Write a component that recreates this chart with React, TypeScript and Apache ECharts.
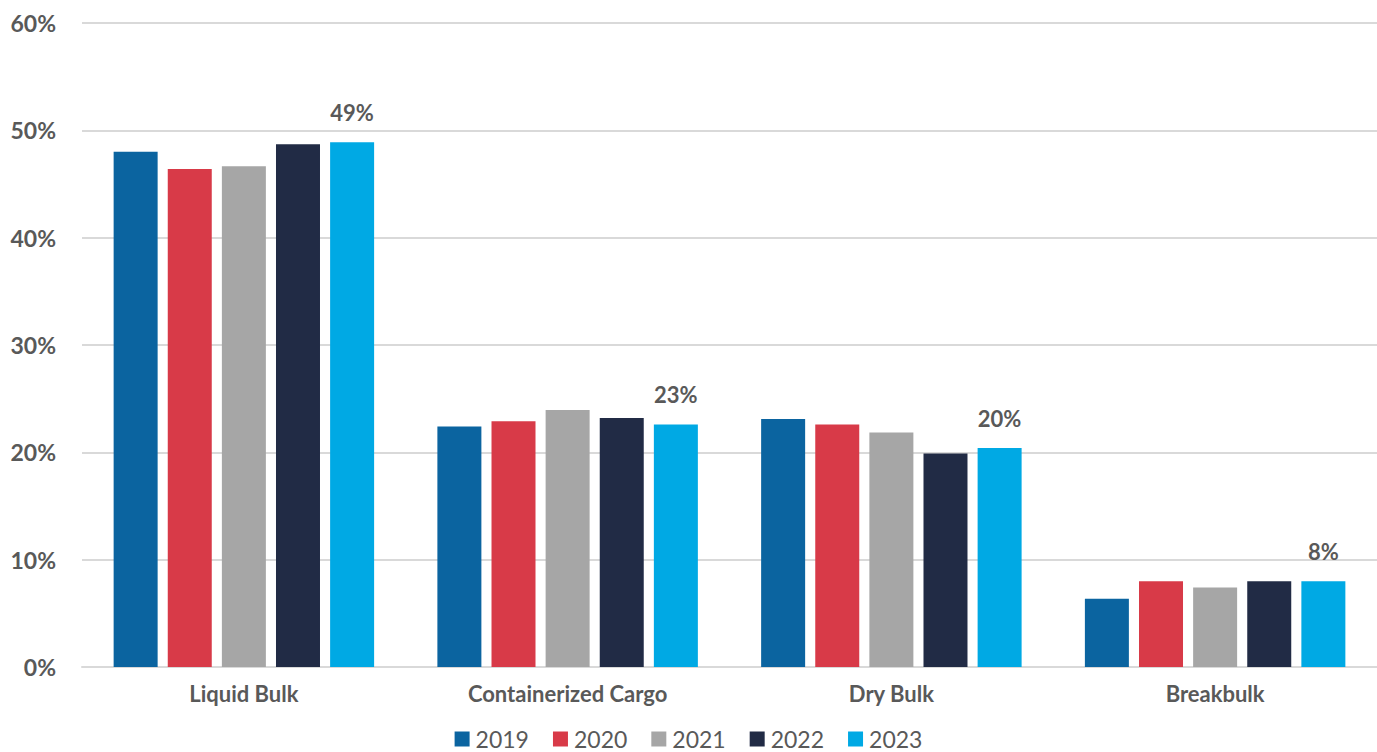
import React, { useEffect, useRef } from "react";
import * as echarts from "echarts";

const categories = ["Liquid Bulk", "Containerized Cargo", "Dry Bulk", "Breakbulk"];
const years = ["2019", "2020", "2021", "2022", "2023"];
const v2019 = [48.0, 22.4, 23.1, 6.35];
const v2020 = [46.4, 22.9, 22.6, 8.0];
const v2021 = [46.65, 23.95, 21.85, 7.4];
const v2022 = [48.7, 23.2, 19.9, 8.0];
const v2023 = [48.9, 22.6, 20.4, 8.0];
const seriesValues = [v2019, v2020, v2021, v2022, v2023];
const colors = ["#0B64A0", "#D83A48", "#A6A6A6", "#212B45", "#00A9E4"];
const yTicks = [0, 10, 20, 30, 40, 50, 60];

const FONT = "Lato";
const TEXT = "#595959";

export default function App() {
  const ref = useRef<HTMLDivElement>(null);
  useEffect(() => {
    if (!ref.current) return;
    const chart = echarts.init(ref.current, null, { renderer: "svg" });
    chart.setOption({
      animation: false,
      backgroundColor: "#ffffff",
      textStyle: { fontFamily: FONT },
      grid: { left: 82, right: 0, top: 23, bottom: 85, containLabel: false },
      legend: {
        data: years,
        top: 727,
        padding: 0,
        left: "center",
        itemWidth: 15,
        itemHeight: 15,
        itemGap: 24,
        icon: "rect",
        textStyle: { fontFamily: FONT, fontSize: 23, lineHeight: 24, color: TEXT, padding: [0, 0, 0, 1] },
      },
      xAxis: {
        type: "category",
        data: categories,
        axisLine: { lineStyle: { color: "#D9D9D9", width: 2 } },
        axisTick: { show: false },
        axisLabel: {
          fontFamily: FONT,
          fontSize: 22,
          fontWeight: "bold",
          color: TEXT,
          margin: 15,
        },
      },
      yAxis: {
        type: "value",
        min: yTicks[0],
        max: yTicks[yTicks.length - 1],
        interval: 10,
        axisLine: { show: false },
        axisTick: { show: false },
        splitLine: { lineStyle: { color: "#D9D9D9", width: 2 } },
        axisLabel: {
          fontFamily: FONT,
          fontSize: 23,
          fontWeight: "bold",
          color: TEXT,
          margin: 26,
          formatter: (v: number) => `${v}%`,
        },
      },
      series: years.map((y, i) => ({
        name: y,
        type: "bar",
        data: seriesValues[i],
        barWidth: 44,
        barGap: "23%",
        itemStyle: { color: colors[i] },
        label:
          i === years.length - 1
            ? {
                show: true,
                position: "top",
                distance: 19,
                fontFamily: FONT,
                fontSize: 22,
                fontWeight: "bold",
                color: TEXT,
                formatter: (p: any) => `${Math.round(p.value)}%`,
              }
            : { show: false },
      })),
    });
    return () => chart.dispose();
  }, []);
  return (
    <div
      ref={ref}
      style={{ position: "fixed", left: 0, top: 0, width: 1377, height: 752 }}
    />
  );
}
